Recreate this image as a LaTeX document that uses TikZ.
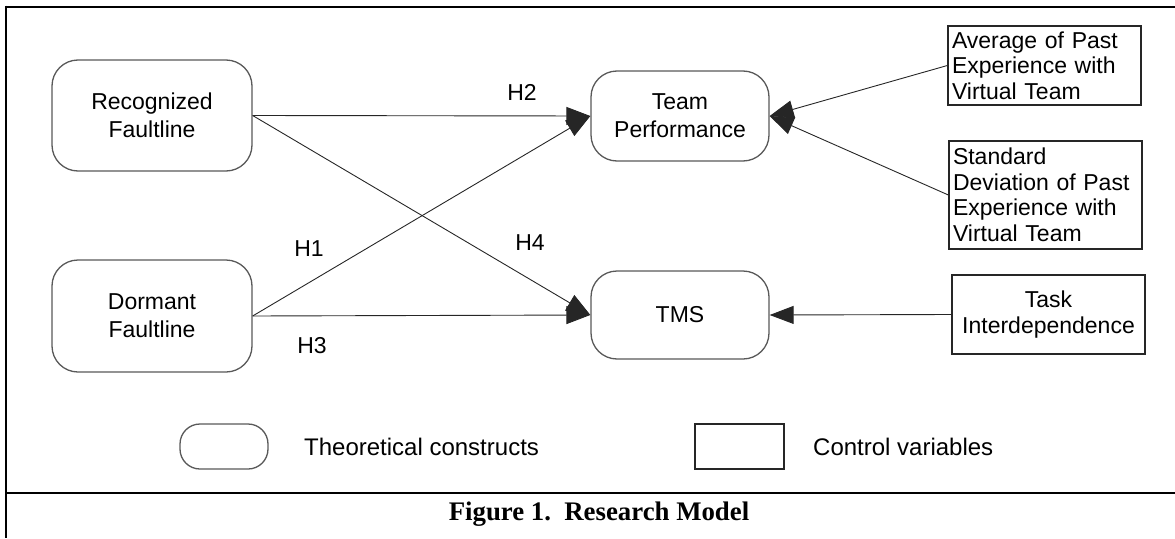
\documentclass[tikz,border=0pt]{standalone}
\usepackage{fontspec}
\setmainfont{Liberation Sans}
\newfontfamily\captionserif{Liberation Serif}
\usetikzlibrary{arrows.meta,positioning}
\newcommand\diagfont{\fontsize{23}{28}\selectfont}
\newcommand\ctrlfont{\fontsize{23}{25.5}\selectfont}
\newcommand\legfont{\fontsize{24}{28}\selectfont}
\tikzset{
  construct/.style={draw=black!65,line width=1.3pt,rounded corners=26pt,fill=white,
                    align=center,inner sep=0pt,font=\diagfont},
  ctrlbox/.style={draw=black!85,line width=1.3pt,fill=white,inner sep=0pt,font=\ctrlfont},
  hyp/.style={-{Triangle[length=24pt,width=18pt]},line width=0.9pt,draw=black!85},
  hlbl/.style={font=\diagfont,inner sep=0pt},
  frameline/.style={line width=2.6pt,draw=black},
}

\begin{document}
\begin{tikzpicture}[x=1pt,y=-1pt]
  \useasboundingbox (0,0) rectangle (1175,538);

  % --- frame ---------------------------------------------------------------
  \draw[frameline] (6,7) -- (1175,7);
  \draw[frameline] (6,5.7) -- (6,538);
  \draw[frameline] (6,493) -- (1175,493);

  % --- theoretical constructs ---------------------------------------------
  \node[construct,minimum width=200,minimum height=111] (rec) at (152,115.5)
        {Recognized\\Faultline};
  \node[construct,minimum width=200,minimum height=112] (dor) at (152,316)
        {Dormant\\Faultline};
  \node[construct,minimum width=178,minimum height=90] (tp) at (680,116)
        {Team\\Performance};
  \node[construct,minimum width=178,minimum height=88] (tms) at (680,315)
        {TMS};

  % --- control variables ---------------------------------------------------
  \node[ctrlbox,minimum width=193,minimum height=79,text width=185,align=left] (avg)
        at (1044.5,65.5) {Average of Past\\Experience with\\Virtual Team};
  \node[ctrlbox,minimum width=193,minimum height=108,text width=185,align=left] (sdev)
        at (1045.5,195) {Standard\\Deviation of Past\\Experience with\\Virtual Team};
  \node[ctrlbox,minimum width=193,minimum height=79,align=center] (task)
        at (1048.5,314.5) {Task\\Interdependence};

  % --- hypotheses ----------------------------------------------------------
  \draw[hyp] (rec.east) -- (tp.west);
  \draw[hyp] (rec.east) -- (tms.west);
  \draw[hyp] (dor.east) -- (tp.west);
  \draw[hyp] (dor.east) -- (tms.west);
  \node[hlbl] (h2) at (522,92)  {H2};
  \node[hlbl] (h1) at (309,249) {H1};
  \node[hlbl] (h4) at (530,243) {H4};
  \node[hlbl] (h3) at (312,346) {H3};

  % --- controls -> outcomes ------------------------------------------------
  \draw[hyp] (avg.west) -- (tp.east);
  \draw[hyp] (sdev.west) -- (tp.east);
  \draw[hyp] (task.west) -- (tms.east);

  % --- legend --------------------------------------------------------------
  \node[construct,minimum width=88,minimum height=45,rounded corners=20pt] (legc)
        at (224,446.5) {};
  \node[font=\legfont,anchor=west,inner sep=0pt] (legct) at (304,447)
        {Theoretical constructs};
  \node[ctrlbox,minimum width=89,minimum height=45] (legv) at (739.5,446.5) {};
  \node[font=\legfont,anchor=west,inner sep=0pt] (legvt) at (813,447)
        {Control variables};

  % --- caption -------------------------------------------------------------
  \node[font=\captionserif\bfseries\fontsize{26.8}{30}\selectfont,anchor=base,inner sep=0pt]
        (cap) at (599,520) {Figure 1.\ \ Research Model};

\end{tikzpicture}
\end{document}
